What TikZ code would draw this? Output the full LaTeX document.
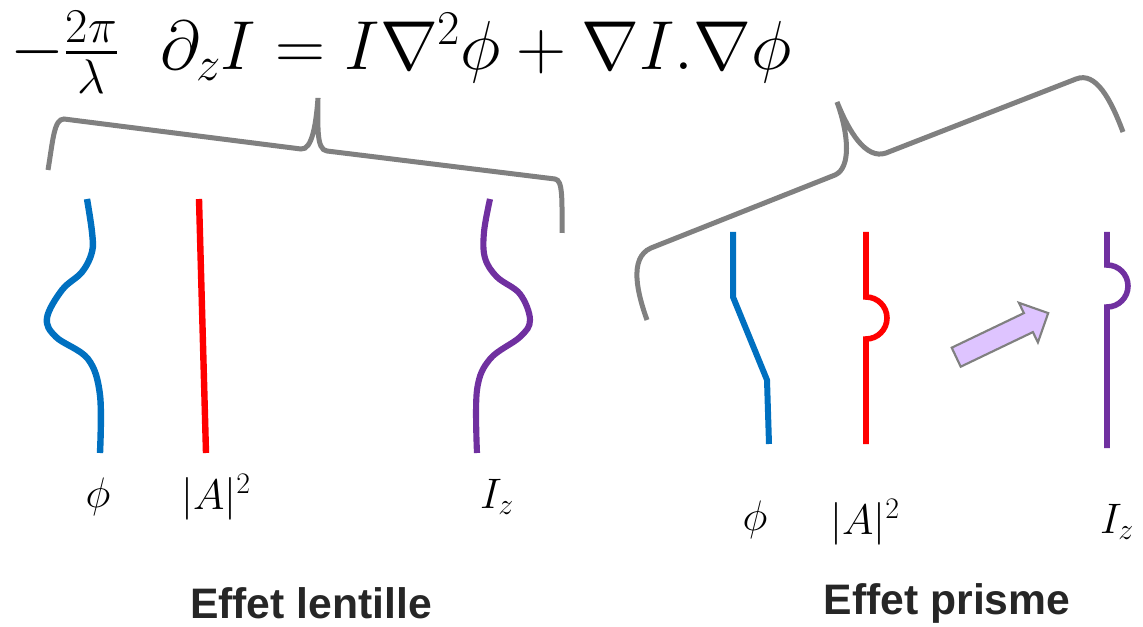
\RequirePackage{fix-cm}
\documentclass[tikz,border=0pt]{standalone}
\usepackage{amsmath,amssymb}
\usepackage{fontspec}
\setsansfont{Liberation Sans}
\usepackage{tikz}
\definecolor{phaseblue}{RGB}{0,112,192}
\definecolor{intpurple}{RGB}{112,48,160}
\definecolor{lavender}{RGB}{222,196,255}
\newcommand{\effet}[1]{{\sffamily\bfseries\color{black!85}#1}}

\begin{document}
\begin{tikzpicture}[x=0.75pt,y=-0.75pt,
  brace/.style={draw=gray,line width=3.75pt},
  phasecurve/.style={draw=phaseblue,line width=4.8pt},
  ampcurve/.style={draw=red,line width=4.8pt},
  intcurve/.style={draw=intpurple,line width=4.6pt},
  lbl/.style={font=\fontsize{32}{34}\selectfont}]
\useasboundingbox (0,0) rectangle (1143,627);
% transport of intensity equation
\node[anchor=base west,inner sep=0pt,font=\fontsize{52}{56}\selectfont] (eqn) at (10,70)
  {$-\frac{2\pi}{\lambda}\ \ \partial_z I = I\nabla^2\phi + \nabla I.\nabla\phi$};
% left brace (lens term) and right brace (prism term), tilted
\draw[brace] (48,170) .. controls (53,140) and (54,119) .. (64,119) -- (301,149)
  .. controls (312,150) and (316,125) .. (318,98) .. controls (318,125) and (316,150) .. (327,151)
  -- (555,179) .. controls (563,180) and (562,200) .. (562,233);
\draw[brace] (647,320) .. controls (638,295) and (628,258) .. (651,248) -- (835,175)
  .. controls (851,168) and (849,135) .. (837,102) .. controls (849,132) and (866,160) .. (886,153)
  -- (1076,79) .. controls (1096,71) and (1111,100) .. (1123,132);
% lens effect: curved phase, flat amplitude, focused intensity
\draw[phasecurve] plot[smooth,tension=0.6] coordinates {(87,199) (92,232) (92,252) (82,272) (62,290) (47,318) (56,337) (88,359) (100,395) (100,453)};
\draw[ampcurve] (199,199) -- (206,453);
\draw[intcurve] plot[smooth,tension=0.6] coordinates {(490,199) (484,232) (485,258) (497,277) (520,294) (530,320) (520,337) (490,359) (477,390) (477,453)};
% prism effect: tilted phase, bump shifted downstream
\draw[phasecurve,line width=4.5pt] (733,232) -- (733,297) -- (767,380) -- (769,444);
\draw[ampcurve,line width=4.2pt] (866,232) -- (866,297) arc[start angle=-90,end angle=90,radius=21] -- (866,444);
\draw[intcurve,line width=4.2pt] (1107,232) -- (1107,265) arc[start angle=-90,end angle=90,radius=21] -- (1107,448);
\draw[draw=gray,line width=1.6pt,fill=lavender,line join=miter]
  (951.7,347.7) -- (1023.9,313.1) -- (1018.9,302.8) -- (1048.2,313.1) -- (1037.9,342.4) -- (1032.9,332.1) -- (960.7,366.7) -- cycle;
% labels
\node[lbl] (phiL) at (98,497) {$\phi$};
\node[lbl] (ampL) at (216,497) {$|A|^2$};
\node[lbl] (intL) at (497,497) {$I_z$};
\node[lbl] (phiR) at (755,520) {$\phi$};
\node[lbl] (ampR) at (865,522) {$|A|^2$};
\node[lbl] (intR) at (1117,522) {$I_z$};
\node[font=\fontsize{32}{36}\selectfont] (lens) at (311,603) {\effet{Effet lentille}};
\node[font=\fontsize{32}{36}\selectfont] (prism) at (947,603) {\effet{Effet prisme}};
\end{tikzpicture}
\end{document}
